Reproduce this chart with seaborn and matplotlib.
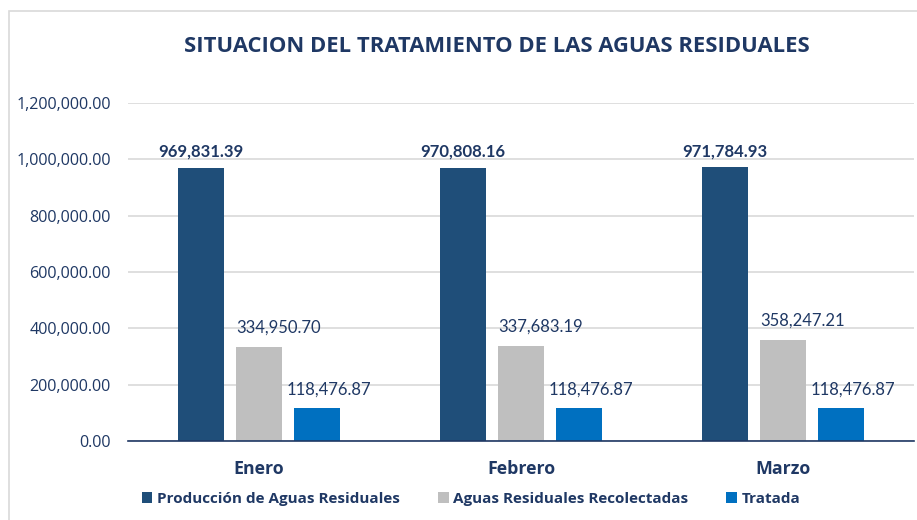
import numpy as np
import pandas as pd
import matplotlib
matplotlib.use("Agg")
import matplotlib.pyplot as plt
import seaborn as sns
from matplotlib.patches import Rectangle

months = ["Enero", "Febrero", "Marzo"]
series = ["Producción de Aguas Residuales", "Aguas Residuales Recolectadas", "Tratada"]
produccion = [969831.39, 970808.16, 971784.93]
recolectadas = [334950.70, 337683.19, 358247.21]
tratada = [118476.87, 118476.87, 118476.87]
yticks = [0, 200000, 400000, 600000, 800000, 1000000, 1200000]
title = "SITUACION DEL TRATAMIENTO DE LAS AGUAS RESIDUALES"

colors = ["#1F4E79", "#BFBFBF", "#0070C0"]
navy = "#1F3864"

rows = []
for s, vals in zip(series, [produccion, recolectadas, tratada]):
    for m, v in zip(months, vals):
        rows.append({"Mes": m, "Serie": s, "Valor": v})
df = pd.DataFrame(rows)

sns.set_theme(style="white")
plt.rcParams['font.family'] = ['Open Sans', 'DejaVu Sans']

fig = plt.figure(figsize=(9.17, 5.2), dpi=100)
ax = fig.add_axes([128/917, 1-441/520, (914-128)/917, (441-103)/520])

sns.barplot(data=df, x="Mes", y="Valor", hue="Serie", hue_order=series,
            order=months, palette=colors, width=0.664, gap=0.2,
            saturation=1, ax=ax, legend=True, edgecolor="none")

ax.set_ylim(0, 1200000)
ax.set_xlim(-0.5, 2.5)
ax.set_yticks(yticks)
ax.set_yticklabels([f"{v:,.2f}" for v in yticks], color=navy, fontsize=11.6)
ax.yaxis.grid(True, color="#D9D9D9", linewidth=1.2)
ax.set_axisbelow(True)
for sp in ["top", "right", "left"]:
    ax.spines[sp].set_visible(False)
ax.spines["bottom"].set_color(navy)
ax.spines["bottom"].set_linewidth(1.2)
ax.tick_params(axis="y", length=0, pad=12.5)
ax.tick_params(axis="x", length=0, pad=14)
for lbl in ax.get_xticklabels():
    lbl.set_fontweight("bold")
    lbl.set_fontsize(12.8)
    lbl.set_color(navy)
ax.set_xlabel("")
ax.set_ylabel("")

offsets = [(0, 16), (20, 19), (12, 18)]
for i, cont in enumerate(ax.containers):
    dx, dy = offsets[i]
    for bar, v in zip(cont.patches, cont.datavalues):
        ax.annotate(f"{v:,.2f}", (bar.get_x() + bar.get_width() / 2, bar.get_height()),
                    xytext=(dx, dy), textcoords="offset pixels",
                    ha="center", va="center", color=navy, fontsize=12,
                    fontweight="bold" if i == 0 else "normal",
                    family=["Lato", "DejaVu Sans"])

leg = ax.legend(loc="upper center", bbox_to_anchor=((471-128)/786, -0.11), ncol=3,
                frameon=False, fontsize=11, handlelength=0.7, handleheight=0.7,
                columnspacing=2.5, handletextpad=0.3)
for t in leg.get_texts():
    t.set_color(navy)
    t.set_fontweight("bold")

fig.text(497/917, 1-47/520, title, ha="center", va="center",
         fontsize=15.8, fontweight="bold", color=navy)

fig.patches.append(Rectangle((9/917, -0.1), 1.2, 1 - 11/520 + 0.1,
                             transform=fig.transFigure, fill=False,
                             edgecolor="#D9D9D9", linewidth=1.2))

fig.savefig("out.png", dpi=100)
